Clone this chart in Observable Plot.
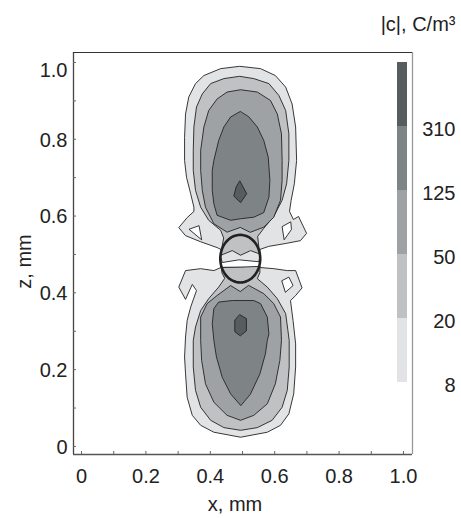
<!DOCTYPE html>
<html>
<head>
<meta charset="utf-8">
<script src="https://cdn.jsdelivr.net/npm/d3@7"></script>
<script src="https://cdn.jsdelivr.net/npm/@observablehq/plot@0.6"></script>
<style>
  body { margin: 0; background: #fff; }
  #wrap { position: relative; width: 461px; height: 518px; }
  #wrap svg { position: absolute; left: 0; top: 0; }
</style>
</head>
<body>
<div id="wrap"></div>
<script>
// ---- axes ----
const xDomain = [-0.025, 1.028];
const zDomain = [-0.021, 1.026];
const minorTicks = [0, 0.1, 0.2, 0.3, 0.4, 0.5, 0.6, 0.7, 0.8, 0.9, 1.0];
const xLabels = [0, 0.2, 0.4, 0.6, 0.8, 1.0];
const zLabels = [0, 0.2, 0.4, 0.6, 0.8];
const zLabelTop = [1.0];

// ---- contour levels (C/m^3) and fills ----
const levels = [8, 20, 50, 125, 310];
const levelColors = ["#e2e3e5", "#bfc1c3", "#9fa2a5", "#7e8486", "#575d5f"];

// ---- contour outlines [x, z] in mm : upper lobe ----
const top8 = [[0.433,0.513],[0.421,0.518],[0.370,0.533],[0.323,0.549],[0.302,0.570],[0.328,0.596],[0.349,0.612],[0.349,0.623],[0.339,0.658],[0.326,0.701],[0.320,0.745],[0.320,0.805],[0.323,0.866],[0.333,0.910],[0.354,0.945],[0.380,0.966],[0.432,0.984],[0.491,0.990],[0.556,0.984],[0.602,0.966],[0.634,0.936],[0.654,0.892],[0.665,0.832],[0.668,0.745],[0.661,0.684],[0.651,0.641],[0.646,0.612],[0.658,0.591],[0.674,0.599],[0.699,0.555],[0.680,0.536],[0.637,0.529],[0.581,0.521],[0.554,0.513],[0.554,0.495],[0.551,0.481],[0.489,0.486],[0.437,0.479],[0.432,0.495]];
const topHoleL = [[0.335,0.566],[0.365,0.575],[0.373,0.539]];
const topHoleR = [[0.624,0.573],[0.650,0.585],[0.652,0.565],[0.630,0.539]];
const top20 = [[0.441,0.544],[0.432,0.563],[0.395,0.589],[0.370,0.623],[0.354,0.667],[0.347,0.719],[0.347,0.771],[0.349,0.832],[0.357,0.884],[0.375,0.918],[0.401,0.945],[0.442,0.958],[0.491,0.964],[0.535,0.958],[0.582,0.945],[0.613,0.914],[0.634,0.875],[0.644,0.814],[0.644,0.745],[0.637,0.684],[0.623,0.641],[0.597,0.599],[0.566,0.568],[0.547,0.547],[0.551,0.518],[0.554,0.501],[0.525,0.510],[0.494,0.498],[0.468,0.510],[0.433,0.498],[0.436,0.518]];
const top50 = [[0.492,0.570],[0.452,0.558],[0.411,0.580],[0.385,0.623],[0.375,0.667],[0.370,0.719],[0.370,0.771],[0.380,0.832],[0.395,0.875],[0.421,0.905],[0.452,0.923],[0.494,0.929],[0.546,0.923],[0.587,0.901],[0.608,0.866],[0.621,0.814],[0.623,0.745],[0.623,0.693],[0.618,0.641],[0.597,0.597],[0.566,0.571],[0.525,0.558]];
const top125 = [[0.492,0.872],[0.463,0.858],[0.442,0.832],[0.426,0.797],[0.411,0.745],[0.406,0.719],[0.406,0.667],[0.411,0.632],[0.421,0.602],[0.463,0.589],[0.494,0.593],[0.535,0.597],[0.566,0.609],[0.582,0.649],[0.585,0.693],[0.580,0.753],[0.566,0.797],[0.546,0.832],[0.520,0.858]];
const top310 = [[0.492,0.691],[0.513,0.658],[0.494,0.635],[0.473,0.652],[0.480,0.675]];

// ---- lower lobe ----
const bot8 = [[0.433,0.466],[0.411,0.458],[0.370,0.463],[0.323,0.458],[0.302,0.415],[0.323,0.383],[0.344,0.422],[0.357,0.406],[0.339,0.363],[0.328,0.328],[0.323,0.285],[0.320,0.233],[0.323,0.189],[0.328,0.128],[0.344,0.081],[0.370,0.055],[0.411,0.037],[0.494,0.024],[0.577,0.037],[0.618,0.055],[0.644,0.085],[0.659,0.137],[0.665,0.207],[0.665,0.267],[0.657,0.328],[0.649,0.380],[0.665,0.393],[0.685,0.413],[0.665,0.458],[0.639,0.458],[0.597,0.463],[0.554,0.466]];
const botHoleR = [[0.623,0.432],[0.644,0.441],[0.657,0.419],[0.634,0.402]];
const bot20 = [[0.444,0.437],[0.426,0.415],[0.395,0.385],[0.370,0.354],[0.354,0.311],[0.347,0.276],[0.347,0.207],[0.354,0.146],[0.370,0.102],[0.401,0.068],[0.442,0.049],[0.494,0.042],[0.546,0.049],[0.592,0.068],[0.623,0.102],[0.639,0.146],[0.645,0.207],[0.645,0.276],[0.641,0.302],[0.634,0.346],[0.608,0.385],[0.577,0.415],[0.546,0.437],[0.554,0.453],[0.554,0.469],[0.494,0.467],[0.435,0.466],[0.436,0.453]];
const bot50 = [[0.492,0.404],[0.463,0.419],[0.421,0.393],[0.390,0.372],[0.370,0.337],[0.370,0.276],[0.373,0.224],[0.385,0.163],[0.411,0.115],[0.452,0.081],[0.494,0.068],[0.535,0.081],[0.577,0.111],[0.602,0.163],[0.616,0.224],[0.621,0.276],[0.618,0.337],[0.597,0.372],[0.566,0.398],[0.520,0.419]];
const bot125 = [[0.494,0.107],[0.463,0.137],[0.437,0.180],[0.419,0.233],[0.411,0.276],[0.406,0.320],[0.411,0.359],[0.426,0.376],[0.468,0.380],[0.535,0.380],[0.556,0.372],[0.577,0.337],[0.582,0.293],[0.577,0.276],[0.571,0.241],[0.554,0.189],[0.525,0.137]];
const bot310 = [[0.492,0.343],[0.512,0.333],[0.512,0.301],[0.493,0.288],[0.476,0.299],[0.476,0.328]];

// ---- particle outline ----
const circleCenter = [0.493, 0.489];
const circleRadius = 0.062;

const fontFamily = "'Liberation Sans', Arial, Helvetica, sans-serif";
const ink = "#222";

const circlePts = d3.range(0, 360, 6).map(a => [
  circleCenter[0] + circleRadius * Math.cos(a * Math.PI / 180),
  circleCenter[1] + circleRadius * Math.sin(a * Math.PI / 180)
]);

const poly = (data, fill) => Plot.line(data, {
  x: d => d[0], y: d => d[1], fill, stroke: ink, strokeWidth: 0.9,
  curve: "linear-closed", strokeLinejoin: "round"
});

const fmt = d => d === 0 ? "0" : d.toFixed(1);

const main = Plot.plot({
  width: 461, height: 518,
  marginTop: 52, marginLeft: 73, marginRight: 49, marginBottom: 64,
  style: {fontFamily, fontSize: "20px", background: "#fff", color: ink},
  x: {domain: xDomain, label: null},
  y: {domain: zDomain, label: null},
  marks: [
    poly(top8, levelColors[0]),
    poly(bot8, levelColors[0]),
    poly(topHoleL, "#fff"),
    poly(topHoleR, "#fff"),
    poly(botHoleR, "#fff"),
    poly(top20, levelColors[1]),
    poly(bot20, levelColors[1]),
    poly(top50, levelColors[2]),
    poly(bot50, levelColors[2]),
    poly(top125, levelColors[3]),
    poly(bot125, levelColors[3]),
    poly(top310, levelColors[4]),
    poly(bot310, levelColors[4]),
    Plot.line(circlePts, {x: d => d[0], y: d => d[1], curve: "catmull-rom-closed", stroke: ink, strokeWidth: 2.6}),
    // frame
    Plot.ruleX([xDomain[0]], {stroke: "#444", strokeWidth: 1.3}),
    Plot.ruleX([xDomain[1]], {stroke: "#999", strokeWidth: 1.3}),
    Plot.ruleY([zDomain[0]], {stroke: "#555", strokeWidth: 1.3}),
    Plot.ruleY([zDomain[1]], {stroke: "#333", strokeWidth: 1.1}),
    // ticks
    Plot.axisX({ticks: minorTicks, tickSize: -3, tickFormat: () => "", stroke: "#666"}),
    Plot.axisY({ticks: minorTicks, tickSize: -3, tickFormat: () => "", stroke: "#666"}),
    // labels
    Plot.axisX({ticks: xLabels, tickSize: 0, tickPadding: 14, tickFormat: fmt, label: null, fill: ink}),
    Plot.axisY({ticks: zLabels, tickSize: 0, tickPadding: 6, tickFormat: fmt, label: null, fill: ink, dy: 1}),
    Plot.axisY({ticks: zLabelTop, tickSize: 0, tickPadding: 6, tickFormat: fmt, label: null, fill: ink, dy: 8}),
    Plot.text(["x, mm"], {frameAnchor: "bottom", dy: 56, dx: -8, lineAnchor: "bottom", textAnchor: "middle", fill: ink}),
    Plot.text(["z, mm"], {frameAnchor: "left", dx: -49, dy: 8, rotate: -90, textAnchor: "middle", fill: ink})
  ]
});

// colour bar legend
const legendData = levels.map((v, i) => ({v, i}));
const legend = Plot.plot({
  width: 461, height: 518,
  marginTop: 62, marginBottom: 136, marginLeft: 397, marginRight: 54,
  style: {fontFamily, fontSize: "20px", background: "transparent", color: ink},
  x: {domain: [0, 1], axis: null},
  y: {domain: [0, levels.length], axis: null},
  marks: [
    Plot.rect(legendData, {x1: 0, x2: 1, y1: d => d.i, y2: d => d.i + 1, fill: d => levelColors[d.i]}),
    Plot.text(legendData, {x: 1, y: d => d.i, text: d => String(d.v), textAnchor: "end", dx: 48, dy: 3, fill: ink}),
    Plot.text(["|c|, C/m³"], {x: 1, y: levels.length, textAnchor: "end", dx: 48, dy: -38, fill: ink})
  ]
});

const wrap = document.getElementById("wrap");
wrap.appendChild(main);
wrap.appendChild(legend);
</script>
</body>
</html>
